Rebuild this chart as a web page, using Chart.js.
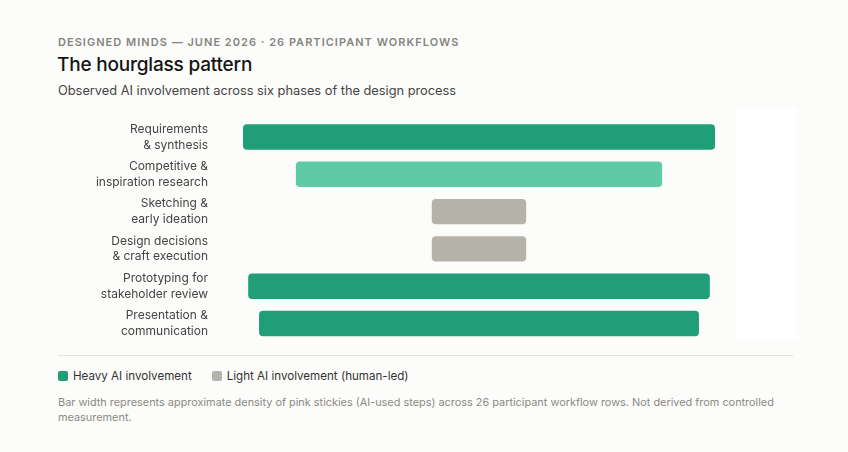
<!DOCTYPE html>
<html>
<head>
<meta charset="utf-8">
<script src="https://cdn.jsdelivr.net/npm/chart.js@4.4.1/dist/chart.umd.min.js"></script>
<style>
  html,body{margin:0;padding:0;background:#fcfcfa;}
  body{width:848px;height:452px;position:relative;overflow:hidden;font-family:Inter,"Noto Sans",sans-serif;}
  .abs{position:absolute;white-space:nowrap;}
  #eyebrow{left:58px;top:35px;font-size:11px;font-weight:600;letter-spacing:1.03px;color:#85847f;}
  #title{left:57px;top:53px;font-size:19px;font-weight:500;color:#151515;letter-spacing:-0.2px;}
  #subtitle{left:58px;top:83px;font-size:12.8px;color:#444;}
  #panel{left:736px;top:108px;width:60px;height:231px;background:#ffffff;}
  #chartBox{left:0;top:100px;width:848px;height:260px;}
  #sep{left:58px;top:355px;width:735px;height:1px;background:#e2e1dc;}
  #legend{left:58px;top:369px;font-size:11.6px;color:#333;display:flex;align-items:center;}
  .sw{display:inline-block;width:10px;height:10px;border-radius:2px;margin-right:5px;}
  .item{display:flex;align-items:center;margin-right:20px;}
  #note{left:58px;top:395px;width:740px;white-space:normal;font-size:10.9px;line-height:15px;color:#8b8a85;}
</style>
</head>
<body>
<div class="abs" id="eyebrow">DESIGNED MINDS — JUNE 2026 · 26 PARTICIPANT WORKFLOWS</div>
<div class="abs" id="title">The hourglass pattern</div>
<div class="abs" id="subtitle">Observed AI involvement across six phases of the design process</div>
<div class="abs" id="panel"></div>
<div class="abs" id="chartBox"><canvas id="c"></canvas></div>
<div class="abs" id="sep"></div>
<div class="abs" id="legend"></div>
<div class="abs" id="note">Bar width represents approximate density of pink stickies (AI-used steps) across 26 participant workflow rows. Not derived from controlled measurement.</div>
<script>
// ---- data ----
const phases = [
  ["Requirements", "& synthesis"],
  ["Competitive &", "inspiration research"],
  ["Sketching &", "early ideation"],
  ["Design decisions", "& craft execution"],
  ["Prototyping for", "stakeholder review"],
  ["Presentation &", "communication"]
];
const barStart = [0, 11.2, 40, 40, 1.1, 3.4];
const barEnd   = [100, 88.8, 60, 60, 98.9, 96.6];
const barLevel = ["heavy", "heavyLight", "light", "light", "heavy", "heavy"];
const legendLabels = ["Heavy AI involvement", "Light AI involvement (human-led)"];

// ---- styles ----
const levelColors = { heavy: "#1f9e77", heavyLight: "#5ecba6", light: "#b5b2aa" };
const legendColors = ["#1f9e77", "#b5b2aa"];

const legend = document.getElementById("legend");
legendLabels.forEach((t, i) => {
  const d = document.createElement("div");
  d.className = "item";
  d.innerHTML = '<span class="sw" style="background:' + legendColors[i] + '"></span>' + t;
  legend.appendChild(d);
});

const ranges = barStart.map((s, i) => [s, barEnd[i]]);

new Chart(document.getElementById("c"), {
  type: "bar",
  data: {
    labels: phases,
    datasets: [{
      data: ranges,
      backgroundColor: barLevel.map(l => levelColors[l]),
      borderRadius: 4,
      borderSkipped: false,
      categoryPercentage: 1,
      barPercentage: 0.68
    }]
  },
  options: {
    indexAxis: "y",
    responsive: true,
    maintainAspectRatio: false,
    animation: false,
    layout: { padding: { left: 0, right: 133, top: 18.3, bottom: 17.8 } },
    plugins: { legend: { display: false }, tooltip: { enabled: false } },
    scales: {
      x: { min: 0, max: 100, display: false },
      y: {
        grid: { display: false, drawTicks: false },
        border: { display: false },
        ticks: {
          padding: 35,
          color: "#444",
          font: { family: "Inter", size: 12, lineHeight: 1.33 }
        },
        afterFit: s => { s.width = 243; s.paddingTop = 0; s.paddingBottom = 0; }
      }
    }
  }
});
</script>
</body>
</html>
